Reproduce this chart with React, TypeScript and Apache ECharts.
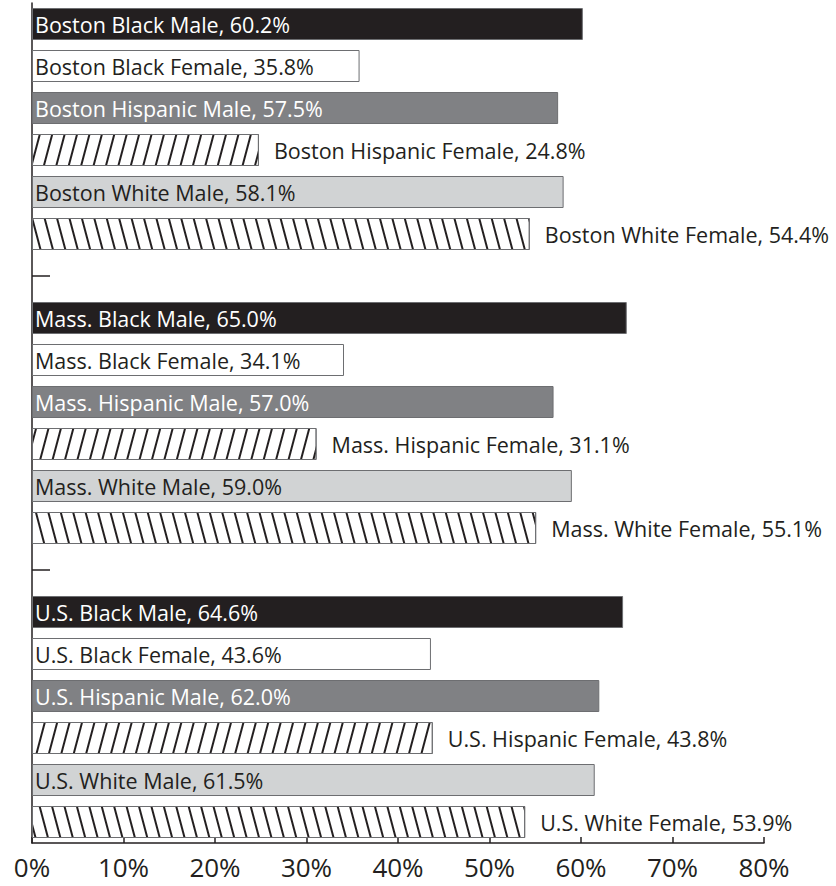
import React, { useEffect, useRef } from "react";
import * as echarts from "echarts";

const groups = ["Boston", "Mass.", "U.S."];
const subgroups = [
  "Black Male",
  "Black Female",
  "Hispanic Male",
  "Hispanic Female",
  "White Male",
  "White Female",
];
const bostonValues = [60.2, 35.8, 57.5, 24.8, 58.1, 54.4];
const massValues = [65.0, 34.1, 57.0, 31.1, 59.0, 55.1];
const usValues = [64.6, 43.6, 62.0, 43.8, 61.5, 53.9];
const xTickValues = [0, 10, 20, 30, 40, 50, 60, 70, 80];

const groupValues = [bostonValues, massValues, usValues];

const DARK = "#231f20";
const BORDER = "#6d6e71";
const LABEL_FONT = "'Open Sans', 'Noto Sans', sans-serif";
const AXIS_FONT = "'Open Sans', 'Noto Sans', sans-serif";

type Style = {
  fill: string;
  text: string;
  outside: boolean;
  hatch: number; // 0 none, 1 "/", -1 "\"
};

const subgroupStyles: Style[] = [
  { fill: DARK, text: "#ffffff", outside: false, hatch: 0 },
  { fill: "#ffffff", text: DARK, outside: false, hatch: 0 },
  { fill: "#808184", text: "#ffffff", outside: false, hatch: 0 },
  { fill: "#ffffff", text: DARK, outside: true, hatch: 1 },
  { fill: "#d1d3d4", text: DARK, outside: false, hatch: 0 },
  { fill: "#ffffff", text: DARK, outside: true, hatch: -1 },
];

function buildRows() {
  const categories: string[] = [];
  const data: any[] = [];
  groups.forEach((g, gi) => {
    if (gi > 0) {
      categories.push(" ".repeat(gi));
      data.push({ value: null });
    }
    subgroups.forEach((s, si) => {
      const name = `${g} ${s}`;
      const v = groupValues[gi][si];
      const st = subgroupStyles[si];
      categories.push(name);
      const item: any = {
        value: v,
        itemStyle: {
          color: st.fill,
          borderColor: BORDER,
          borderWidth: 1,
        },
        label: {
          show: true,
          position: st.outside ? "right" : "insideLeft",
          distance: st.outside ? 15 : 3,
          color: st.text,
          fontSize: 21.5,
          fontFamily: LABEL_FONT,
          formatter: `${name}, ${v.toFixed(1)}%`,
        },
      };
      if (st.hatch !== 0) {
        item.itemStyle.decal = {
          symbol: "rect",
          symbolSize: 1,
          color: DARK,
          dashArrayX: [1, 0],
          dashArrayY: [2, 10],
          rotation: -st.hatch * (Math.PI / 2 - 0.26),
        };
      }
      data.push(item);
    });
  });
  return { categories, data };
}

export default function App() {
  const ref = useRef<HTMLDivElement>(null);
  useEffect(() => {
    document.body.style.margin = "0";
    if (!ref.current) return;
    const chart = echarts.init(ref.current, undefined, { renderer: "svg" });
    const { categories, data } = buildRows();
    chart.setOption({
      animation: false,
      backgroundColor: "#ffffff",
      grid: { left: 32, right: 72, top: 3, bottom: 43, containLabel: false },
      xAxis: {
        type: "value",
        min: xTickValues[0],
        max: xTickValues[xTickValues.length - 1],
        interval: 10,
        position: "bottom",
        axisLine: { show: true, lineStyle: { color: DARK, width: 1.5 } },
        axisTick: { show: true, inside: true, length: 6, lineStyle: { color: DARK, width: 1.5 } },
        splitLine: { show: false },
        axisLabel: {
          margin: 11,
          formatter: "{value}%",
          fontSize: 26,
          lineHeight: 26,
          color: DARK,
          fontFamily: AXIS_FONT,
        },
      },
      yAxis: {
        type: "category",
        inverse: true,
        data: categories,
        axisLine: { show: true, lineStyle: { color: DARK, width: 1.5 } },
        axisTick: {
          show: true,
          inside: true,
          length: 18,
          alignWithLabel: true,
          lineStyle: { color: DARK, width: 1.5 },
        },
        axisLabel: { show: false },
        splitLine: { show: false },
      },
      series: [
        {
          type: "bar",
          data,
          barWidth: 32,
          z: 3,
        },
      ],
    });
    return () => chart.dispose();
  }, []);
  return <div ref={ref} style={{ width: 836, height: 886 }} />;
}
